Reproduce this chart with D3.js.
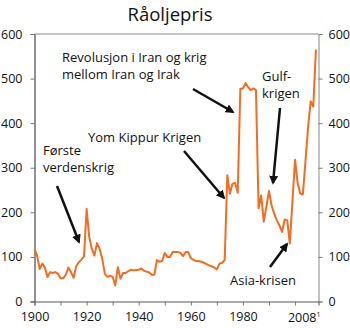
<!DOCTYPE html>
<html><head><meta charset="utf-8">
<script src="https://cdn.jsdelivr.net/npm/d3@7"></script>
<style>
html,body{margin:0;padding:0;background:#fff;}
svg{display:block;font-family:"Open Sans","Noto Sans",sans-serif;}
</style></head>
<body><svg id="c" width="350" height="328"></svg>
<script>
const title = "Råoljepris";
const years = d3.range(1900, 2009);
const prices = [
 118,103,73,85,76,55,66,64,66,62, // 1900-1909
 52,52,60,76,66,53,79,88,94,101,  // 1910-1919
 208,145,118,103,131,118,96,62,55,58, // 1920-1929
 55,36,77,51,64,64,68,71,70,70,   // 1930-1939
 71,74,69,67,65,60,60,93,89,91,   // 1940-1949
 109,100,100,111,111,111,109,102,111,111, // 1950-1959
 97,93,91,91,89,87,84,81,79,76,   // 1960-1969
 72,85,87,93,283,242,264,266,244,477, // 1970-1979
 478,490,481,474,478,474,209,238,179,213, // 1980-1989
 248,215,197,182,171,156,184,182,130,225, // 1990-1999
 318,265,242,240,315,391,449,437,565 // 2000-2008
];
const yTicks = [0,100,200,300,400,500,600];
const xTickLabels = [1900,1920,1940,1960,1980];
const xMinorTicks = d3.range(1900, 2001, 10);
const lastLabel = "2008";
const lastNote = "1";
const annotations = [
  {lines:["Revolusjon i Iran og krig","mellom Iran og Irak"], x:62, y:62, arrow:[[193,89],[233,112]]},
  {lines:["Yom Kippur Krigen"], x:88, y:142, arrow:[[184,151],[224,198]]},
  {lines:["Første","verdenskrig"], x:43, y:155, arrow:[[57,186],[79,242]]},
  {lines:["Gulf-","krigen"], x:262, y:81, arrow:[[280,108],[273,183]]},
  {lines:["Asia-krisen"], x:230, y:285, arrow:[[270,267],[287,244]]}
];

const svg = d3.select("#c");
const L = 34.5, R = 318.5, T = 34, B = 301.5;
const x = d3.scaleLinear().domain([1900, 2009]).range([L, R]);
const y = d3.scaleLinear().domain([0, 600]).range([B, T]);

svg.append("defs").append("marker").attr("id","ah")
  .attr("viewBox","0 0 10 10").attr("refX",8).attr("refY",5)
  .attr("markerWidth",3.6).attr("markerHeight",3.6).attr("orient","auto")
  .append("path").attr("d","M0,0 L10,5 L0,10 z").attr("fill","#111");

svg.append("text").attr("x",170).attr("y",21).attr("text-anchor","middle")
  .attr("font-size",18.5).attr("fill","#111").text(title);

// axes
const la = svg.append("g").attr("transform",`translate(${L},0)`)
  .call(d3.axisLeft(y).tickValues(yTicks).tickSize(4).tickPadding(8));
const ra = svg.append("g").attr("transform",`translate(${R},0)`)
  .call(d3.axisRight(y).tickValues(yTicks).tickSize(4).tickPadding(6));
const ba = svg.append("g").attr("transform",`translate(0,${B})`)
  .call(d3.axisBottom(x).tickValues(xMinorTicks).tickSize(4).tickFormat(d => xTickLabels.includes(d) ? d : ""));
[la,ra,ba].forEach(g => {
  g.selectAll("text").attr("font-size",12.5).attr("fill","#111").attr("font-family","Open Sans, sans-serif");
  g.selectAll("line").attr("stroke","#777");
});
la.select(".domain").attr("stroke","#222");
ra.select(".domain").attr("stroke","#888");
ba.select(".domain").attr("stroke","#555");
ba.selectAll("text").attr("dy","1.0em");
// top line
svg.append("line").attr("x1",L).attr("x2",R).attr("y1",y(600)).attr("y2",y(600)).attr("stroke","#888");

const lt = svg.append("text").attr("x",R+2).attr("y",B+20.5).attr("text-anchor","end")
  .attr("font-size",12.5).attr("fill","#111");
lt.append("tspan").text(lastLabel);
lt.append("tspan").attr("font-size",7).attr("dy",-5).text(lastNote);

// line
const data = years.map((yr,i) => ({yr, v: prices[i]}));
svg.append("path").datum(data)
  .attr("fill","none").attr("stroke","#f26d21").attr("stroke-width",2)
  .attr("stroke-linejoin","round")
  .attr("d", d3.line().x(d => x(d.yr)).y(d => y(d.v)));

// annotations
annotations.forEach(a => {
  const t = svg.append("text").attr("font-size",13).attr("fill","#111");
  a.lines.forEach((ln,i) => t.append("tspan").attr("x",a.x).attr("y",a.y + i*16.5).text(ln));
  svg.append("line").attr("x1",a.arrow[0][0]).attr("y1",a.arrow[0][1])
    .attr("x2",a.arrow[1][0]).attr("y2",a.arrow[1][1])
    .attr("stroke","#111").attr("stroke-width",2.5).attr("marker-end","url(#ah)");
});
</script></body></html>
